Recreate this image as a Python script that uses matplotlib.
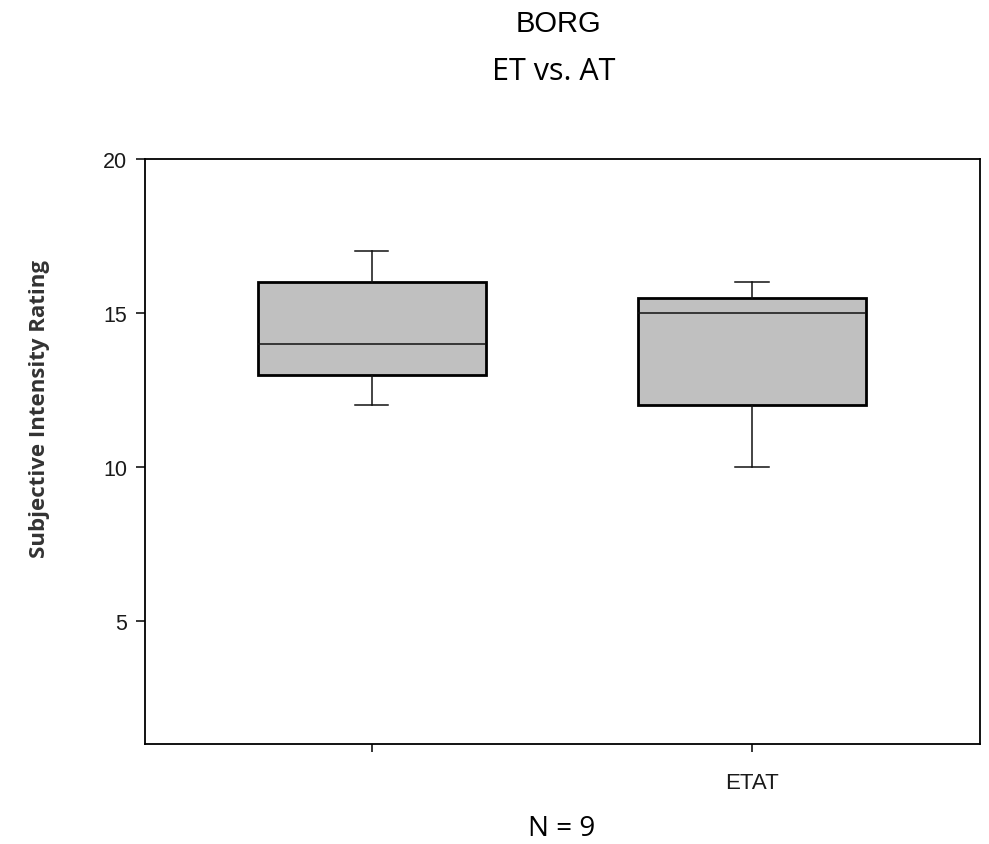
import matplotlib
matplotlib.use("Agg")
import matplotlib.pyplot as plt

# Box statistics (Borg rating)
groups = ["", "ETAT"]
whisker_low = [12, 10]
q1 = [13, 12]
median = [14, 15]
q3 = [16, 15.5]
whisker_high = [17, 16]

fig = plt.figure(figsize=(9.89, 8.45), dpi=100)
ax = fig.add_axes([0.1466, 0.1183, 0.8444, 0.6924])

stats = []
for i, name in enumerate(groups):
    stats.append({
        "label": name,
        "whislo": whisker_low[i],
        "q1": q1[i],
        "med": median[i],
        "q3": q3[i],
        "whishi": whisker_high[i],
        "fliers": [],
    })

ax.bxp(
    stats,
    positions=[1, 2],
    widths=0.6,
    patch_artist=True,
    showfliers=False,
    boxprops=dict(facecolor="#c0c0c0", edgecolor="black", linewidth=2.0),
    medianprops=dict(color="#111111", linewidth=1.1),
    whiskerprops=dict(color="#111111", linewidth=1.1),
    capprops=dict(color="#111111", linewidth=1.1),
    capwidths=0.087,
)

ax.set_xlim(0.403, 2.6)
ax.set_ylim(1, 20)
ax.set_yticks([5, 10, 15, 20])
ax.set_xticks([1, 2])
ax.set_xticklabels(groups, family="Liberation Sans", fontsize=16, color="#1a1a1a")
for lab in ax.get_yticklabels():
    lab.set_family("Liberation Sans")
    lab.set_fontsize(15.5)
    lab.set_color("#1a1a1a")
ax.tick_params(axis="y", length=6.5, width=1.1, pad=6.5)
ax.tick_params(axis="x", length=6, width=1.1, pad=14)
for sp in ax.spines.values():
    sp.set_linewidth(1.3)

ax.set_ylabel("Subjective Intensity Rating", family="Open Sans", fontweight="bold",
              fontsize=16, va="center", color="#333333")
ax.yaxis.set_label_coords(-0.126, 0.574)

fig.text(0.565, 0.972, "BORG", ha="center", va="center",
         family="Liberation Sans", fontsize=21)
fig.text(0.560, 0.915, "ET vs. AT", ha="center", va="center",
         family="Open Sans", fontsize=22)
fig.text(0.568, 0.019, "N = 9", ha="center", va="center",
         family="Open Sans", fontsize=20)

fig.savefig("out.png", dpi=100)
